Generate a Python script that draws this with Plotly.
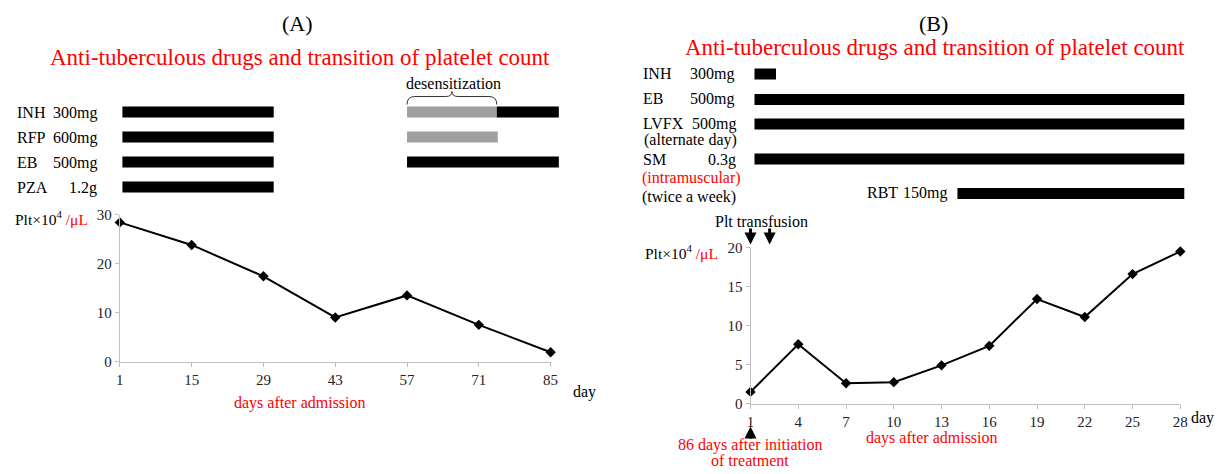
import plotly.graph_objects as go

# ---------------- data ----------------
days_a = [1, 15, 29, 43, 57, 71, 85]
plt_a = [28.4, 23.8, 17.4, 9.0, 13.5, 7.5, 1.9]

days_b = [1, 4, 7, 10, 13, 16, 19, 22, 25, 28]
plt_b = [1.5, 7.6, 2.6, 2.75, 4.9, 7.4, 13.4, 11.1, 16.6, 19.5]

# drug regimens, panel A (start day, end day)
drugs_a = ["INH", "RFP", "EB", "PZA"]
doses_a = ["300mg", "600mg", "500mg", "1.2g"]
a_first_start = [1.5, 1.5, 1.5, 1.5]
a_first_end = [31, 31, 31, 31]
a_desens_rows = ["INH", "RFP"]
a_desens_start = [57, 57]
a_desens_end = [74.5, 74.7]
a_full_rows = ["INH", "EB"]
a_full_start = [74.5, 57]
a_full_end = [86.6, 86.6]

# drug regimens, panel B
drugs_b = ["INH", "EB", "LVFX", "SM", "RBT"]
b_start = [1.25, 1.25, 1.25, 1.25, 14.0]
b_end = [2.6, 28.25, 28.25, 28.25, 28.25]
transfusion_days = [1, 2.2]

SERIF = "Liberation Serif, Times New Roman, serif"
W, H = 1224, 474
RED = "#ff0000"
AXC = "#bfbfbf"
VS, VO = 0.966, 8.5    # vertical compensation of the photographed page
HS, HO = 0.9907, 3.1   # horizontal compensation


def px(x):
    return min(1.0, max(0.0, (x - HO) / HS / W))


def py(y):
    yy = (y - VO) / VS
    return min(1.0, max(0.0, 1 - yy / H))


def xdom(p0, p1, d0, d1, r0, r1):
    k = (p1 - p0) / (d1 - d0)
    return [px(p0 + (r0 - d0) * k), px(p0 + (r1 - d0) * k)]


fig = go.Figure()

# line charts
fig.add_trace(go.Scatter(x=days_a, y=plt_a, mode="lines+markers", xaxis="x", yaxis="y",
                         line=dict(color="black", width=2),
                         marker=dict(symbol="diamond", size=8, color="black"),
                         cliponaxis=False, showlegend=False))
fig.add_trace(go.Scatter(x=days_b, y=plt_b, mode="lines+markers", xaxis="x2", yaxis="y2",
                         line=dict(color="black", width=2),
                         marker=dict(symbol="diamond", size=8, color="black"),
                         cliponaxis=False, showlegend=False))

# bars panel A
rows_a = {d: i for i, d in enumerate(drugs_a)}
BW = 0.44
bar_common = dict(orientation="h", width=BW, showlegend=False, hoverinfo="skip")
fig.add_trace(go.Bar(y=[rows_a[d] for d in drugs_a], base=a_first_start,
                     x=[e - s for s, e in zip(a_first_start, a_first_end)],
                     marker=dict(color="black", line_width=0),
                     xaxis="x3", yaxis="y3", **bar_common))
fig.add_trace(go.Bar(y=[rows_a[d] for d in a_desens_rows], base=a_desens_start,
                     x=[e - s for s, e in zip(a_desens_start, a_desens_end)],
                     marker=dict(color="#a0a0a0", line_width=0),
                     xaxis="x3", yaxis="y3", **bar_common))
fig.add_trace(go.Bar(y=[rows_a[d] for d in a_full_rows], base=a_full_start,
                     x=[e - s for s, e in zip(a_full_start, a_full_end)],
                     marker=dict(color="black", line_width=0),
                     xaxis="x3", yaxis="y3", **bar_common))

# bars panel B (row positions are layout)
rowpos_b = [0, 1.02, 2.0, 3.4, 4.78]
fig.add_trace(go.Bar(y=rowpos_b, base=b_start,
                     x=[e - s for s, e in zip(b_start, b_end)],
                     marker=dict(color="black", line_width=0),
                     xaxis="x4", yaxis="y4", **bar_common))

axis_common = dict(showgrid=False, zeroline=False, showline=True, linecolor=AXC, linewidth=1,
                   ticks="outside", ticklen=4, tickcolor=AXC, tickwidth=1,
                   tickfont=dict(family=SERIF, size=15, color="#222222"))
inner = dict(showgrid=False, zeroline=False, showline=False, ticks="inside", ticklen=4,
             tickcolor=AXC, tickwidth=1, showticklabels=False)

fig.update_layout(
    width=W, height=H, margin=dict(l=0, r=0, t=0, b=0),
    paper_bgcolor="white", plot_bgcolor="white", barmode="overlay", showlegend=False,
    font=dict(family=SERIF, size=16, color="black"),
    xaxis=dict(domain=[px(119), px(550)], range=[1, 85], tickvals=days_a, anchor="y", **axis_common),
    yaxis=dict(domain=[py(362), py(215)], range=[0, 30], tickvals=[0, 10, 20, 30], anchor="x",
               **axis_common),
    xaxis2=dict(domain=[px(750), px(1180)], range=[1, 28], tickvals=days_b, anchor="y2", **axis_common),
    yaxis2=dict(domain=[py(404), py(248)], range=[0, 20], tickvals=[0, 5, 10, 15, 20], anchor="x2",
                **axis_common),
    xaxis3=dict(domain=xdom(119, 550, 1, 85, 0, 88), range=[0, 88], anchor="y3", visible=False),
    yaxis3=dict(domain=[py(200), py(100)], range=[3.5, -0.5], anchor="x3", visible=False),
    xaxis4=dict(domain=xdom(750, 1180, 1, 28, 0, 29), range=[0, 29], anchor="y4", visible=False),
    yaxis4=dict(domain=[py(207), py(62)], range=[5.3, -0.5], anchor="x4", visible=False),
    xaxis5=dict(overlaying="x", anchor="y", range=[1, 85], tickvals=days_a, **inner),
    yaxis5=dict(overlaying="y", anchor="x", range=[0, 30], tickvals=[0, 10, 20, 30], **inner),
    xaxis6=dict(overlaying="x2", anchor="y2", range=[1, 28], tickvals=days_b, **inner),
    yaxis6=dict(overlaying="y2", anchor="x2", range=[0, 20], tickvals=[0, 5, 10, 15, 20], **inner),
)

anns = []


def ann(text, x, y, xanchor="left", size=16, color="black", yanchor="middle"):
    anns.append(dict(text=text, x=px(x), y=py(y), xref="paper", yref="paper",
                     xanchor=xanchor, yanchor=yanchor, showarrow=False,
                     font=dict(family=SERIF, size=size, color=color)))


PLT = "Plt×10<sup>4</sup> <span style='color:#ff0000'>/μL</span>"

# panel A texts
ann("(A)", 297, 24, "center", 22)
ann("Anti-tuberculous drugs and transition of platelet count", 299, 58, "center", 23, RED)
for i, (d, dose) in enumerate(zip(drugs_a, doses_a)):
    ann(d, 14, 113 + 25 * i)
    ann(dose, 98, 113 + 25 * i, "right")
ann("desensitization", 453, 84, "center")
ann(PLT, 12, 218, "left", 15.5)
ann("day", 570, 392)
ann("days after admission", 299, 403, "center", 16, RED)

# panel B texts
ann("(B)", 933, 24, "center", 22)
ann("Anti-tuberculous drugs and transition of platelet count", 935, 48, "center", 23, RED)
ann("INH", 640, 74)
ann("300mg", 735, 74, "right")
ann("EB", 640, 99)
ann("500mg", 735, 99, "right")
ann("LVFX", 640, 124)
ann("500mg", 737, 124, "right")
ann("(alternate day)", 641, 140)
ann("SM", 640, 160)
ann("0.3g", 737, 160, "right")
ann("(intramuscular)", 639, 178, "left", 16, RED)
ann("(twice a week)", 639, 197)
ann("RBT", 865, 193)
ann("150mg", 949, 193, "right")
ann("Plt transfusion", 761, 222, "center")
ann(PLT, 642, 252, "left", 15.5)
ann("day", 1224, 418, "right")
ann("days after admission", 932, 438, "center", 16, RED)
ann("86 days after initiation", 749, 445, "center", 16, RED)
ann("of treatment", 749, 461, "center", 16, RED)

# arrows
for d in transfusion_days:
    anns.append(dict(x=d, y=py(245), xref="x2", yref="paper", ax=0, ay=-17 / VS, text="",
                     showarrow=True, arrowhead=2, arrowsize=0.8, arrowwidth=3, arrowcolor="black"))
anns.append(dict(x=days_b[0], y=py(427), xref="x2", yref="paper", ax=0, ay=13 / VS, text="",
                 showarrow=True, arrowhead=2, arrowsize=0.8, arrowwidth=3, arrowcolor="black"))

fig.update_layout(annotations=anns)

# desensitization brace over the graded-dose period
s, e = a_desens_start[0], a_desens_end[0]
m = (s + e) / 2
yb, yl, yp = py(105), py(97), py(92)
path = (f"M {s},{yb} Q {s},{yl} {s+1.5},{yl} L {m-1.2},{yl} Q {m},{yl} {m},{yp} "
        f"Q {m},{yl} {m+1.2},{yl} L {e-1.5},{yl} Q {e},{yl} {e},{yb}")
fig.add_shape(type="path", path=path, xref="x", yref="paper", line=dict(color="#333333", width=1))

post = """
document.documentElement.style.margin='0';
document.documentElement.style.padding='0';
document.documentElement.style.overflow='hidden';
document.body.style.margin='0';
document.body.style.padding='0';
document.body.style.overflow='hidden';
var gd = document.querySelector('.plotly-graph-div');
gd.style.position='fixed'; gd.style.left='0px'; gd.style.top='0px';
"""
fig.write_html("out.html", config={"displayModeBar": False, "staticPlot": True}, post_script=post)
